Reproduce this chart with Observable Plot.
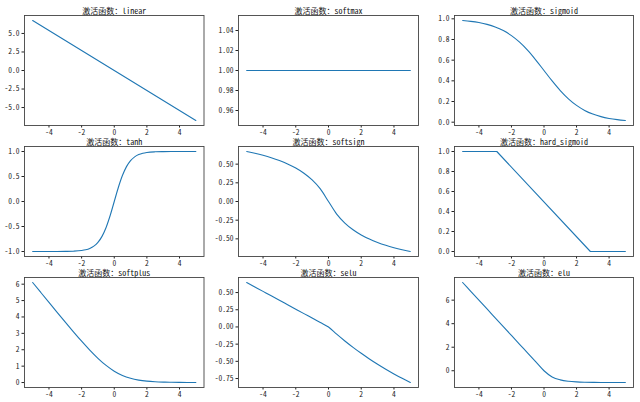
<!DOCTYPE html>
<html>
<head>
<meta charset="utf-8">
<script src="https://cdn.jsdelivr.net/npm/d3@7"></script>
<script src="https://cdn.jsdelivr.net/npm/@observablehq/plot@0.6"></script>
<style>
  html, body { margin: 0; padding: 0; background: #fff; }
  #root { position: relative; width: 640px; height: 402px; overflow: hidden; background: #fff; }
  #root svg { position: absolute; overflow: visible; }
</style>
</head>
<body>
<div id="root"></div>
<script>
// ---- data ----
const xs = [-5, -4.5, -4, -3.5, -3, -2.5, -2, -1.5, -1, -0.5, 0, 0.5, 1, 1.5, 2, 2.5, 3, 3.5, 4, 4.5, 5];
const xTickLabels = ["-4", "-2", "0", "2", "4"];

const linearX = [-5, 0, 5];
const linearY = [6.75, 0, -6.75];
const linearTicks = ["-5.0", "-2.5", "0.0", "2.5", "5.0"];

const softmaxY = [1, 1, 1, 1, 1, 1, 1, 1, 1, 1, 1, 1, 1, 1, 1, 1, 1, 1, 1, 1, 1];
const softmaxTicks = ["0.96", "0.98", "1.00", "1.02", "1.04"];

const sigmoidY = [0.9837, 0.9756, 0.9637, 0.9463, 0.9213, 0.8860, 0.8375, 0.7738, 0.6942, 0.6011, 0.5,
                  0.3989, 0.3058, 0.2262, 0.1625, 0.1140, 0.0787, 0.0537, 0.0363, 0.0244, 0.0163];
const sigmoidTicks = ["0.0", "0.2", "0.4", "0.6", "0.8", "1.0"];

const tanhX = [-5, -4.5, -4, -3.5, -3, -2.5, -2, -1.75, -1.5, -1.25, -1, -0.75, -0.5, -0.25, 0,
               0.25, 0.5, 0.75, 1, 1.25, 1.5, 1.75, 2, 2.5, 3, 3.5, 4, 4.5, 5];
const tanhY = [-1.0000, -0.9999, -0.9998, -0.9994, -0.9980, -0.9937, -0.9801, -0.9649, -0.9383, -0.8932,
               -0.8178, -0.6975, -0.5190, -0.2798, 0,
               0.2798, 0.5190, 0.6975, 0.8178, 0.8932, 0.9383, 0.9649, 0.9801, 0.9937, 0.9980, 0.9994,
               0.9998, 0.9999, 1.0000];
const tanhTicks = ["-1.0", "-0.5", "0.0", "0.5", "1.0"];

const softsignY = [0.6694, 0.6457, 0.6183, 0.5864, 0.5485, 0.5031, 0.4475, 0.3779, 0.2883, 0.1684, 0,
                   -0.1684, -0.2883, -0.3779, -0.4475, -0.5031, -0.5485, -0.5864, -0.6183, -0.6457, -0.6694];
const softsignTicks = ["-0.50", "-0.25", "0.00", "0.25", "0.50"];

const hardSigmoidX = [-5, -2.9, 2.85, 5];
const hardSigmoidY = [1, 1, 0, 0];
const hardSigmoidTicks = ["0.0", "0.2", "0.4", "0.6", "0.8", "1.0"];

const softplusY = [6.1022, 5.4941, 4.8876, 4.2839, 3.6854, 3.0963, 2.5236, 1.9788, 1.4787, 1.0440, 0.6931,
                   0.4340, 0.2587, 0.1488, 0.0836, 0.0463, 0.0254, 0.0139, 0.0076, 0.0041, 0.0022];
const softplusTicks = ["0", "1", "2", "3", "4", "5", "6"];

const seluY = [0.6462, 0.5816, 0.5170, 0.4523, 0.3877, 0.3231, 0.2585, 0.1939, 0.1292, 0.0646, 0,
               -0.1049, -0.2035, -0.2962, -0.3834, -0.4654, -0.5425, -0.6150, -0.6832, -0.7473, -0.8076];
const seluTicks = ["-0.75", "-0.50", "-0.25", "0.00", "0.25", "0.50"];

const eluY = [7.5, 6.75, 6, 5.25, 4.5, 3.75, 3, 2.25, 1.5, 0.75, 0,
              -0.5276, -0.7769, -0.8946, -0.9502, -0.9765, -0.9889, -0.9948, -0.9975, -0.9988, -0.9994];
const eluTicks = ["0", "2", "4", "6"];

const names = ["linear", "softmax", "sigmoid", "tanh", "softsign", "hard_sigmoid", "softplus", "selu", "elu"];

// ---- build panels ----
const panels = [
  {name: names[0], x: linearX, y: linearY, ticks: linearTicks, curve: "linear"},
  {name: names[1], x: xs, y: softmaxY, ticks: softmaxTicks, curve: "linear"},
  {name: names[2], x: xs, y: sigmoidY, ticks: sigmoidTicks, curve: "monotone-x"},
  {name: names[3], x: tanhX, y: tanhY, ticks: tanhTicks, curve: "monotone-x"},
  {name: names[4], x: xs, y: softsignY, ticks: softsignTicks, curve: "monotone-x"},
  {name: names[5], x: hardSigmoidX, y: hardSigmoidY, ticks: hardSigmoidTicks, curve: "linear"},
  {name: names[6], x: xs, y: softplusY, ticks: softplusTicks, curve: "monotone-x"},
  {name: names[7], x: xs, y: seluY, ticks: seluTicks, curve: "monotone-x"},
  {name: names[8], x: xs, y: eluY, ticks: eluTicks, curve: "monotone-x"}
];

const colLeft = [23.5, 238, 454];
const colWidth = [179.5, 180, 179];
const rowTop = [15, 146, 277];
const rowHeight = 110;
const ml = 34, mr = 6, mt = 18, mb = 16;
const font = '"Noto Sans Mono CJK SC", "DejaVu Sans Mono", "Noto Sans CJK SC", monospace';

function yDomain(ys) {
  let lo = d3.min(ys), hi = d3.max(ys);
  if (lo === hi) { const d = 0.05 * Math.abs(lo) || 1; lo -= d; hi += d; }
  const m = (hi - lo) * 0.05;
  return [lo - m, hi + m];
}

const root = document.getElementById("root");
const xTickVals = xTickLabels.map(Number);

panels.forEach((p, i) => {
  const r = Math.floor(i / 3), c = i % 3;
  const W = colWidth[c], H = rowHeight;
  const data = p.x.map((x, k) => ({x, y: p.y[k]}));
  const yVals = p.ticks.map(Number);
  const chart = Plot.plot({
    width: W + ml + mr,
    height: H + mt + mb,
    marginLeft: ml, marginRight: mr, marginTop: mt, marginBottom: mb,
    style: {fontFamily: font, fontSize: "7.5px", color: "#222", background: "transparent", overflow: "visible"},
    x: {domain: [-5.5, 5.5]},
    y: {domain: yDomain(p.y)},
    marks: [
      Plot.line(data, {x: "x", y: "y", stroke: "#1f77b4", strokeWidth: 1.1, curve: p.curve}),
      Plot.axisX({ticks: xTickVals, tickFormat: d => xTickLabels[xTickVals.indexOf(d)], tickSize: 2.5, tickPadding: 1.5, fontSize: 7.5, label: null}),
      Plot.axisY({ticks: yVals, tickFormat: d => p.ticks[yVals.indexOf(d)], tickSize: 2.5, tickPadding: 2.5, fontSize: 7.5, label: null}),
      Plot.frame({stroke: "#444", strokeWidth: 0.9}),
      Plot.text([p.name], {frameAnchor: "top", dy: -7, text: d => "激活函数：" + d, fontSize: 8, fill: "#111"})
    ]
  });
  chart.style.left = (colLeft[c] - ml) + "px";
  chart.style.top = (rowTop[r] - mt) + "px";
  root.appendChild(chart);
});
</script>
</body>
</html>
